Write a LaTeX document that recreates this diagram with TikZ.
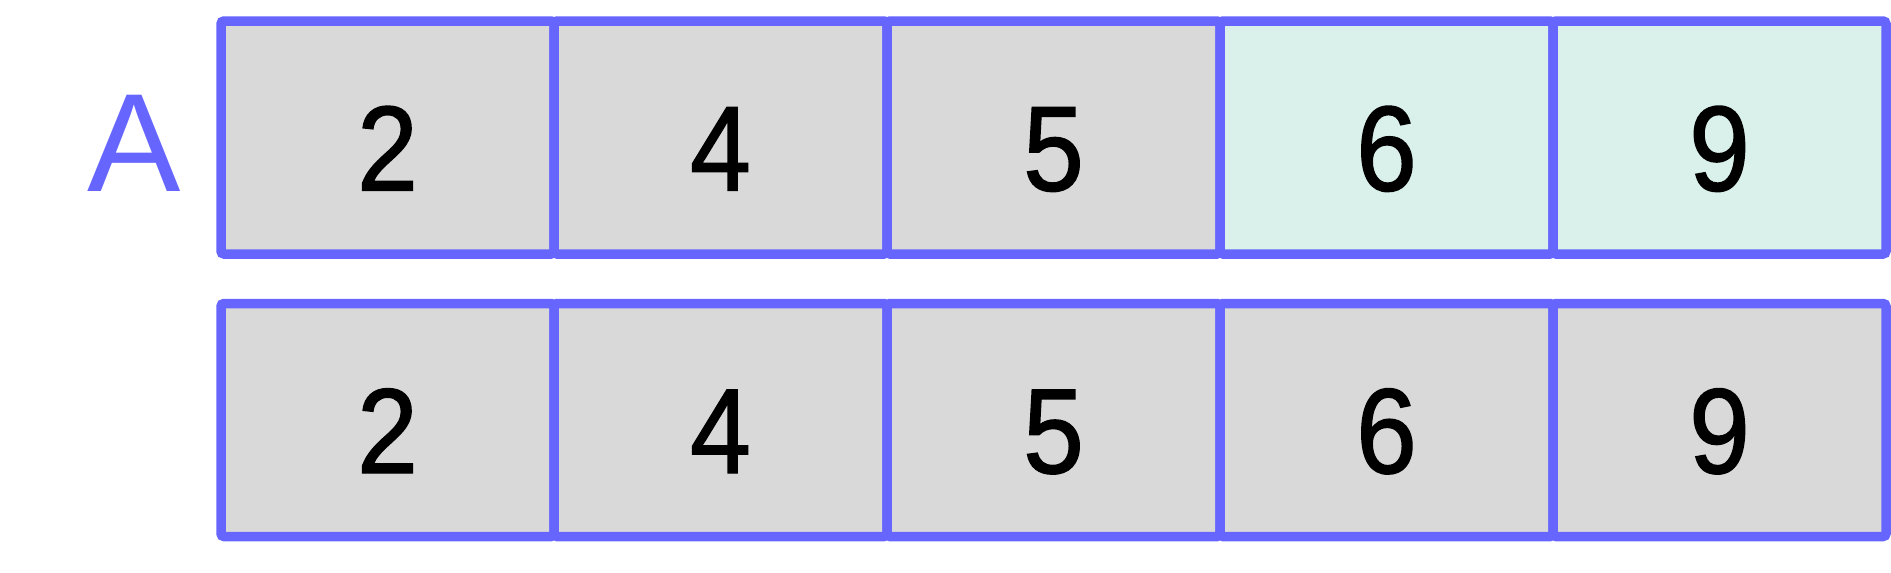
\documentclass[tikz,border=0pt]{standalone}
\usepackage{fontspec}
\setmainfont{Liberation Sans}
\newfontfamily\digitfont[FakeStretch=0.9, FakeBold=1.2]{Liberation Sans}
\usepackage{tikz}
\usetikzlibrary{positioning}
\definecolor{frameblue}{RGB}{102,102,255}
\definecolor{cellgray}{RGB}{217,217,217}
\definecolor{cellmint}{RGB}{217,240,235}
\tikzset{
  cell/.style={draw=frameblue, line width=9.5pt, fill=cellgray, rounded corners=3pt,
    minimum width=333pt, minimum height=233pt, outer sep=0pt, inner sep=0pt,
    text height=106pt, text depth=0pt, font=\digitfont\fontsize{121}{121}\selectfont},
  settled/.style={fill=cellmint},
  arrayname/.style={text=frameblue, inner sep=0pt, font=\fontsize{140}{140}\selectfont}
}
\begin{document}
\begin{tikzpicture}[node distance=333pt, x=1pt, y=1pt]
  \useasboundingbox (0,0) rectangle (1891,-573);
  \node[cell](a2) at (387.5,-137.5){2};
  \node[cell](a4)[right of=a2]{4};
  \node[cell](a5)[right of=a4]{5};
  \node[cell,settled](a6)[right of=a5]{6};
  \node[cell,settled](a9)[right of=a6]{9};
  \node[arrayname](name)[left of=a2, node distance=253.5pt, yshift=-5.5pt]{A};
  \node[cell](b2)[below of=a2, node distance=282.5pt]{2};
  \node[cell](b4)[right of=b2]{4};
  \node[cell](b5)[right of=b4]{5};
  \node[cell](b6)[right of=b5]{6};
  \node[cell](b9)[right of=b6]{9};
\end{tikzpicture}
\end{document}
